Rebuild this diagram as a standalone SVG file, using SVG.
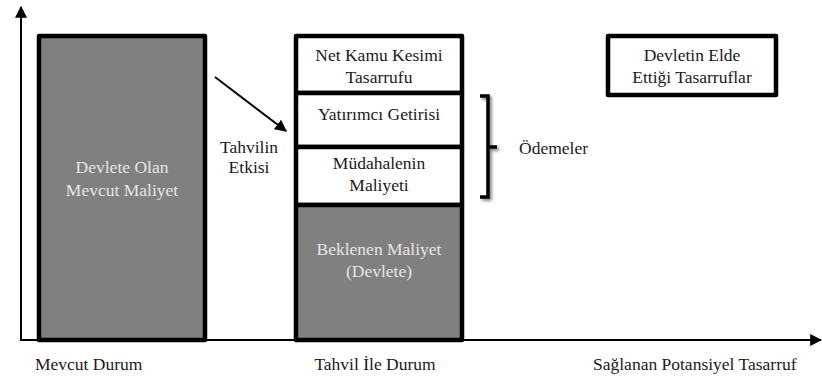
<svg xmlns="http://www.w3.org/2000/svg" width="822" height="379" viewBox="0 0 822 379">
<style>
text{font-family:'Liberation Serif','Times New Roman',serif;font-size:17.5px;fill:#1a1a1a;text-anchor:middle;dominant-baseline:central}
.lt{fill:#e6e6e6}
.box{stroke:#000;stroke-width:4.5;stroke-linejoin:round}
.ax{stroke:#000;stroke-width:2;fill:none}
</style>
<defs>
<marker id="ah2" viewBox="0 0 10 10" refX="9" refY="5" markerWidth="12" markerHeight="12" markerUnits="userSpaceOnUse" orient="auto"><path d="M0,0L10,5L0,10z" fill="#000"/></marker>
<filter id="sh" x="-50%" y="-20%" width="200%" height="140%"><feGaussianBlur in="SourceAlpha" stdDeviation="1.5"/><feOffset dx="2" dy="2"/><feComponentTransfer><feFuncA type="linear" slope="0.5"/></feComponentTransfer><feMerge><feMergeNode/><feMergeNode in="SourceGraphic"/></feMerge></filter>
</defs>
<g id="connectors">
<line class="ax" x1="21" y1="341" x2="21" y2="7" marker-end="url(#ah2)"/>
<line class="ax" x1="20" y1="340" x2="821" y2="340" marker-end="url(#ah2)"/>
<line x1="215" y1="77" x2="286" y2="131" stroke="#000" stroke-width="2" marker-end="url(#ah2)"/>
<path id="brace" d="M480,96H488V197H480M488,147H497" fill="none" stroke="#000" stroke-width="3.5" filter="url(#sh)"/>
</g>
<g id="mevcut-maliyet">
<rect class="box" x="39" y="36" width="166" height="304" fill="#808080"/>
<text class="lt" x="122" y="167">Devlete Olan</text>
<text class="lt" x="122" y="190">Mevcut Maliyet</text>
</g>
<g id="net-kamu">
<rect class="box" x="296" y="36" width="166" height="57" fill="#fff"/>
<text x="379" y="55">Net Kamu Kesimi</text>
<text x="379" y="77">Tasarrufu</text>
</g>
<g id="yatirimci">
<rect class="box" x="296" y="93" width="166" height="54" fill="#fff"/>
<text x="379" y="114">Yatırımcı Getirisi</text>
</g>
<g id="mudahale">
<rect class="box" x="296" y="147" width="166" height="58" fill="#fff"/>
<text x="379" y="163">Müdahalenin</text>
<text x="379" y="185">Maliyeti</text>
</g>
<g id="beklenen">
<rect class="box" x="296" y="205" width="166" height="135" fill="#808080"/>
<text class="lt" x="379" y="249">Beklenen Maliyet</text>
<text class="lt" x="379" y="271">(Devlete)</text>
</g>
<g id="devletin-elde">
<rect class="box" x="608" y="36" width="168" height="59" fill="#fff"/>
<text x="692" y="55">Devletin Elde</text>
<text x="692" y="77">Ettiği Tasarruflar</text>
</g>
<g id="labels">
<text x="249" y="147">Tahvilin</text>
<text x="249" y="167">Etkisi</text>
<text x="519" y="148" style="text-anchor:start">Ödemeler</text>
<text x="35" y="364" style="text-anchor:start">Mevcut Durum</text>
<text x="375" y="364">Tahvil İle Durum</text>
<text x="593" y="364" style="text-anchor:start">Sağlanan Potansiyel Tasarruf</text>
</g>
</svg>
